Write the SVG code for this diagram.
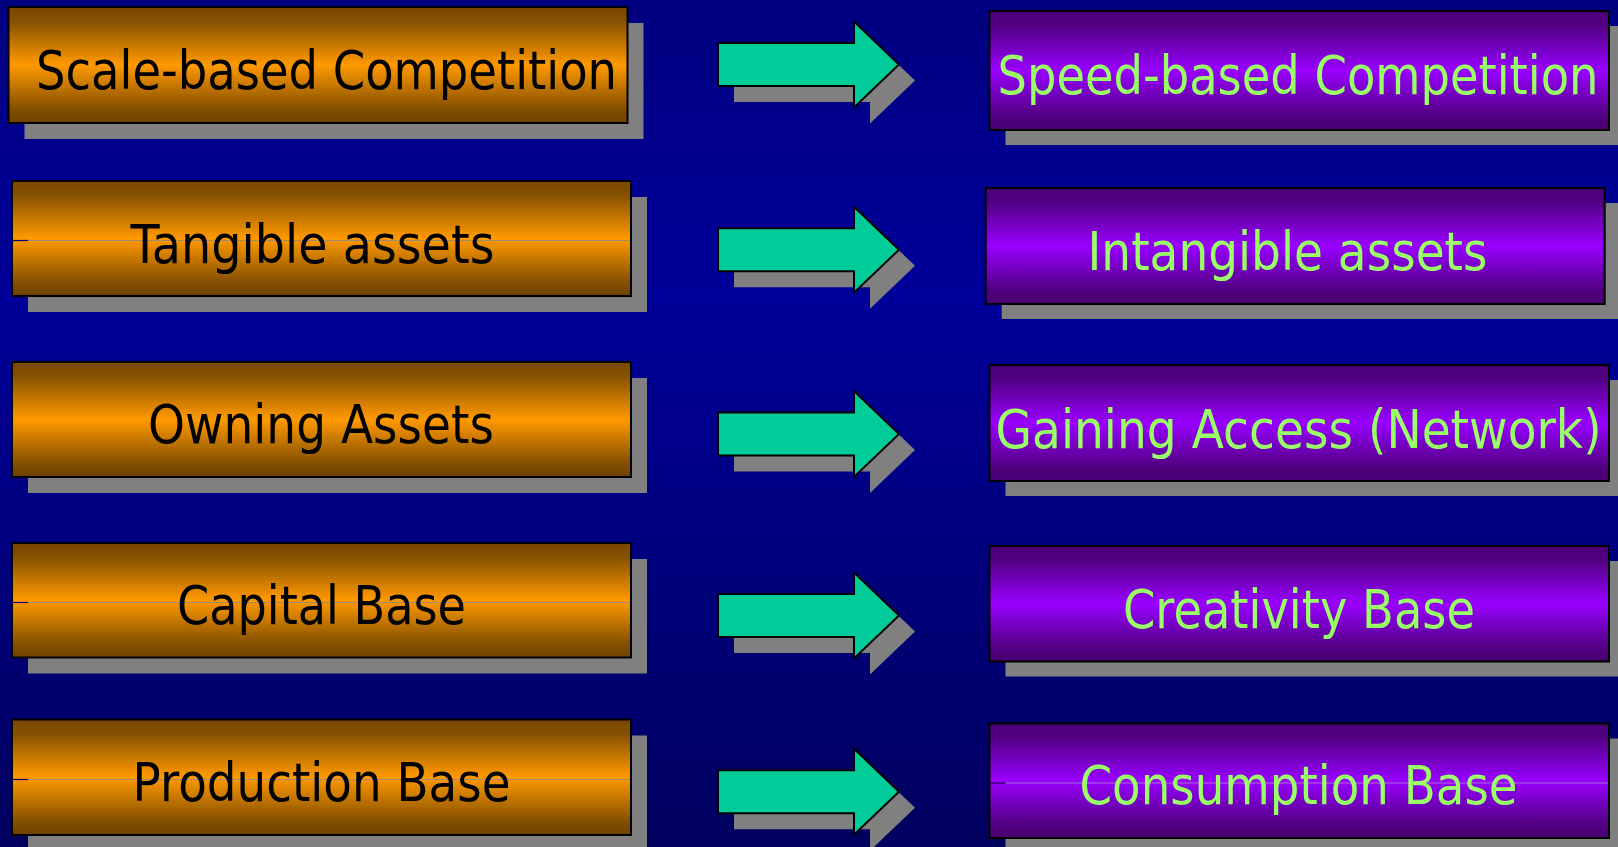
<svg xmlns="http://www.w3.org/2000/svg" width="1618" height="847" viewBox="0 0 1618 847">
<defs>
<linearGradient id="bg" x1="0" y1="0" x2="0" y2="1">
<stop offset="0" stop-color="#000080"/>
<stop offset="0.35" stop-color="#00009a"/>
<stop offset="1" stop-color="#00005e"/>
</linearGradient>
<linearGradient id="orange" x1="0" y1="0" x2="0" y2="1">
<stop offset="0" stop-color="#7a4800"/>
<stop offset="0.12" stop-color="#845000"/>
<stop offset="0.5" stop-color="#ff9900"/>
<stop offset="0.88" stop-color="#845000"/>
<stop offset="1" stop-color="#6e4200"/>
</linearGradient>
<linearGradient id="purple" x1="0" y1="0" x2="0" y2="1">
<stop offset="0" stop-color="#4a0078"/>
<stop offset="0.12" stop-color="#510082"/>
<stop offset="0.5" stop-color="#9900ff"/>
<stop offset="0.88" stop-color="#510082"/>
<stop offset="1" stop-color="#48006f"/>
</linearGradient>
<path id="arrow" d="M0,-21.5 H136 V-43 L181,0 L136,43 V21.5 H0 Z"/>
</defs>
<style>
.shadow{fill:#808080}
.obox{fill:url(#orange);stroke:#000;stroke-width:2}
.pbox{fill:url(#purple);stroke:#000;stroke-width:2}
.otext{font-family:"DejaVu Sans","Liberation Sans",sans-serif;font-size:54px;fill:#000}
.ptext{font-family:"DejaVu Sans","Liberation Sans",sans-serif;font-size:54px;fill:#99ff66}
.ashadow{fill:#808080}
.afill{fill:#00cc99;stroke:#000;stroke-width:2;stroke-linejoin:miter}
.seamb{stroke:#000080;stroke-width:1.2}
.seamg{stroke:#8a8a8a;stroke-width:1.2;stroke-opacity:0.8}
</style>
<rect x="0" y="0" width="1618" height="847" fill="url(#bg)"/>

<g id="node-scale">
<rect class="shadow" x="24.5" y="23" width="619" height="116"/>
<rect class="obox" x="8.5" y="7" width="619" height="116"/>
<text class="otext" transform="translate(36,89.3) scale(0.865,1)" textLength="671.7" lengthAdjust="spacingAndGlyphs">Scale-based Competition</text>
</g>
<g id="node-tangible">
<rect class="shadow" x="28" y="197" width="619" height="115"/>
<rect class="obox" x="12" y="181" width="619" height="115"/>
<line class="seamb" x1="13" y1="240.5" x2="28" y2="240.5"/>
<line class="seamg" x1="28" y1="240.5" x2="630" y2="240.5"/>
<text class="otext" transform="translate(130.5,262.7) scale(0.865,1)" textLength="420.8" lengthAdjust="spacingAndGlyphs">Tangible assets</text>
</g>
<g id="node-owning">
<rect class="shadow" x="28" y="378" width="619" height="115"/>
<rect class="obox" x="12" y="362" width="619" height="115"/>
<text class="otext" transform="translate(148,443.3) scale(0.865,1)" textLength="400" lengthAdjust="spacingAndGlyphs">Owning Assets</text>
</g>
<g id="node-capital">
<rect class="shadow" x="28" y="559" width="619" height="114.5"/>
<rect class="obox" x="12" y="543" width="619" height="114.5"/>
<line class="seamb" x1="13" y1="602.5" x2="28" y2="602.5"/>
<line class="seamg" x1="28" y1="602.5" x2="630" y2="602.5"/>
<text class="otext" transform="translate(177,624) scale(0.865,1)" textLength="334.1" lengthAdjust="spacingAndGlyphs">Capital Base</text>
</g>
<g id="node-production">
<rect class="shadow" x="28" y="735.5" width="619" height="115.5"/>
<rect class="obox" x="12" y="719.5" width="619" height="115.5"/>
<line class="seamb" x1="13" y1="779.5" x2="28" y2="779.5"/>
<line class="seamg" x1="28" y1="779.5" x2="630" y2="779.5"/>
<text class="otext" transform="translate(132.5,800.7) scale(0.865,1)" textLength="437" lengthAdjust="spacingAndGlyphs">Production Base</text>
</g>

<g id="node-speed">
<rect class="shadow" x="1005.5" y="26" width="619.5" height="119"/>
<rect class="pbox" x="989.5" y="11" width="619.5" height="119"/>
<text class="ptext" transform="translate(997.5,94) scale(0.865,1)" textLength="694.8" lengthAdjust="spacingAndGlyphs">Speed-based Competition</text>
</g>
<g id="node-intangible">
<rect class="shadow" x="1001.7" y="203" width="619" height="116"/>
<rect class="pbox" x="985.7" y="188" width="619" height="116"/>
<text class="ptext" transform="translate(1087.5,270) scale(0.865,1)" textLength="462.4" lengthAdjust="spacingAndGlyphs">Intangible assets</text>
</g>
<g id="node-gaining">
<rect class="shadow" x="1005.5" y="380" width="619.5" height="116"/>
<rect class="pbox" x="989.5" y="365" width="619.5" height="116"/>
<text class="ptext" transform="translate(995.5,447.7) scale(0.865,1)" textLength="700.6" lengthAdjust="spacingAndGlyphs">Gaining Access (Network)</text>
</g>
<g id="node-creativity">
<rect class="shadow" x="1005.5" y="561" width="619.5" height="115.5"/>
<rect class="pbox" x="989.5" y="546" width="619.5" height="115.5"/>
<text class="ptext" transform="translate(1123,628.3) scale(0.865,1)" textLength="406.9" lengthAdjust="spacingAndGlyphs">Creativity Base</text>
</g>
<g id="node-consumption">
<rect class="shadow" x="1005.5" y="738.5" width="619.5" height="114.5"/>
<rect class="pbox" x="989.5" y="723.5" width="619.5" height="114.5"/>
<line x1="990" y1="783" x2="1005.5" y2="783" stroke="#2a004a" stroke-width="1.2"/>
<line x1="1005.5" y1="783" x2="1608" y2="783" stroke="#b08ad0" stroke-width="1.2" stroke-opacity="0.8"/>
<text class="ptext" transform="translate(1079.5,804) scale(0.865,1)" textLength="506.4" lengthAdjust="spacingAndGlyphs">Consumption Base</text>
</g>

<g id="connectors">
<use href="#arrow" class="ashadow" x="734" y="80.5"/>
<use href="#arrow" class="afill" x="718" y="64.5"/>
<use href="#arrow" class="ashadow" x="734" y="265.7"/>
<use href="#arrow" class="afill" x="718" y="249.7"/>
<use href="#arrow" class="ashadow" x="734" y="450"/>
<use href="#arrow" class="afill" x="718" y="434"/>
<use href="#arrow" class="ashadow" x="734" y="631.5"/>
<use href="#arrow" class="afill" x="718" y="615.5"/>
<use href="#arrow" class="ashadow" x="734" y="807.7"/>
<use href="#arrow" class="afill" x="718" y="791.7"/>
</g>
</svg>
